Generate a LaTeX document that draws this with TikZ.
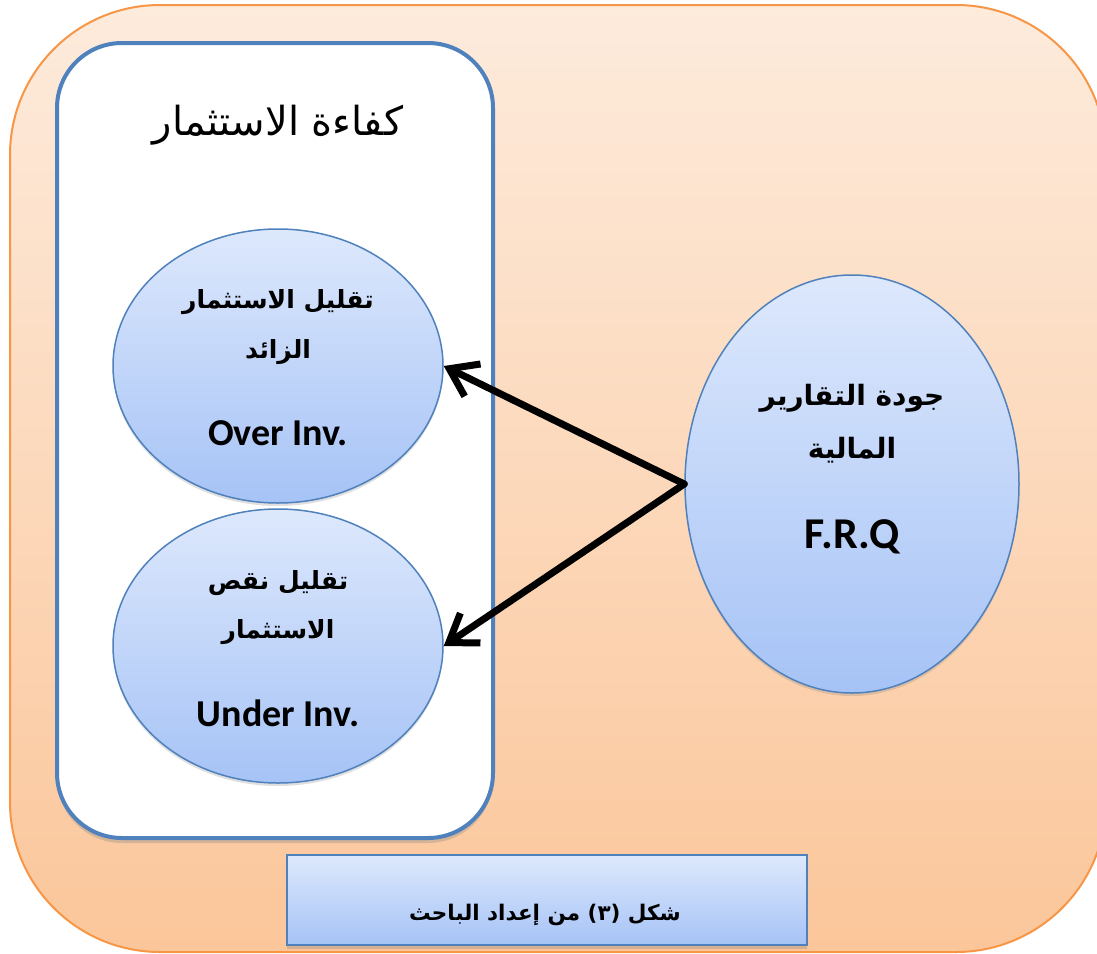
\documentclass[tikz,border=0pt]{standalone}
\usepackage{fontspec}
\setmainfont{Carlito}
\newfontfamily\arabicfont[Script=Arabic]{DejaVu Sans}
\TeXXeTstate=1
\usetikzlibrary{arrows.meta,shadows,shapes.geometric}
\definecolor{outerTop}{HTML}{FDEBDC}
\definecolor{outerBot}{HTML}{FBC69A}
\definecolor{orangeLine}{HTML}{F79646}
\definecolor{blueTop}{HTML}{DDE8FC}
\definecolor{blueBot}{HTML}{A6C3F6}
\definecolor{blueLine}{HTML}{4F81BD}
\begin{document}
\begin{tikzpicture}[x=1pt,y=-1pt,
  arab/.style={font=\arabicfont\bfseries\fontsize{25}{29}\selectfont, inner sep=0pt},
  arabbig/.style={font=\arabicfont\bfseries\fontsize{28}{32}\selectfont, inner sep=0pt},
  lat/.style={font=\bfseries\fontsize{38}{42}\selectfont, inner sep=0pt},
  titletext/.style={font=\arabicfont\fontsize{40}{44}\selectfont, inner sep=0pt},
  bubble/.style={ellipse, draw=blueLine, line width=1.5pt, top color=blueTop, bottom color=blueBot, inner sep=0pt,
    drop shadow={opacity=0.25, shadow xshift=0pt, shadow yshift=-3pt}},
  conn/.style={line width=7pt, line cap=round, -{Straight Barb[length=26pt,width=36pt]}}
]
\clip (0,0) rectangle (1097,953);
% outer frame
\node[rectangle, rounded corners=150pt, draw=orangeLine, line width=2pt,
  top color=outerTop, bottom color=outerBot,
  minimum width=1096pt, minimum height=947pt, inner sep=0pt] (outer) at (558,478.5) {};
% inner frame
\node[rectangle, rounded corners=65pt, draw=blueLine, line width=4pt, fill=white,
  drop shadow={opacity=0.3, shadow xshift=0pt, shadow yshift=-5pt},
  minimum width=436pt, minimum height=795pt, inner sep=0pt] (inner) at (275,440.5) {};
\node[titletext] (title) at (278,125) {\beginR كفاءة الاستثمار\endR};
% ellipses
\node[bubble, minimum width=330pt, minimum height=274pt] (top) at (278,366) {};
\node[bubble, minimum width=330pt, minimum height=274pt] (bot) at (278,646) {};
\node[bubble, minimum width=334pt, minimum height=418pt] (right) at (852,484) {};
% texts
\node[arab] (top1) at (278,302) {\beginR تقليل الاستثمار\endR};
\node[arab] (top2) at (278,352) {\beginR الزائد\endR};
\node[lat] (top3) at (278,433) {Over Inv.};
\node[arab] (bot1) at (278,583) {\beginR تقليل نقص\endR};
\node[arab] (bot2) at (278,632) {\beginR الاستثمار\endR};
\node[lat] (bot3) at (278,713) {Under Inv.};
\node[arabbig] (r1) at (852,398) {\beginR جودة التقارير\endR};
\node[arabbig] (r2) at (852,450) {\beginR المالية\endR};
\node[lat, font=\bfseries\fontsize{44}{48}\selectfont] (r3) at (852,537) {F.R.Q};
% connectors
\draw[conn] (right.west) -- (top.east);
\draw[conn] (right.west) -- (bot.east);
% caption box
\node[rectangle, draw=blueLine, line width=1.5pt, top color=blueTop, bottom color=blueBot,
  drop shadow={opacity=0.3, shadow xshift=0pt, shadow yshift=-4pt},
  minimum width=520pt, minimum height=90pt, inner sep=0pt] (capbox) at (547,900) {};
\node[font=\arabicfont\bfseries\fontsize{21.5}{25}\selectfont, inner sep=0pt] (cap) at (545,915) {\beginR شكل (٣) من إعداد الباحث\endR};
\end{tikzpicture}
\end{document}
